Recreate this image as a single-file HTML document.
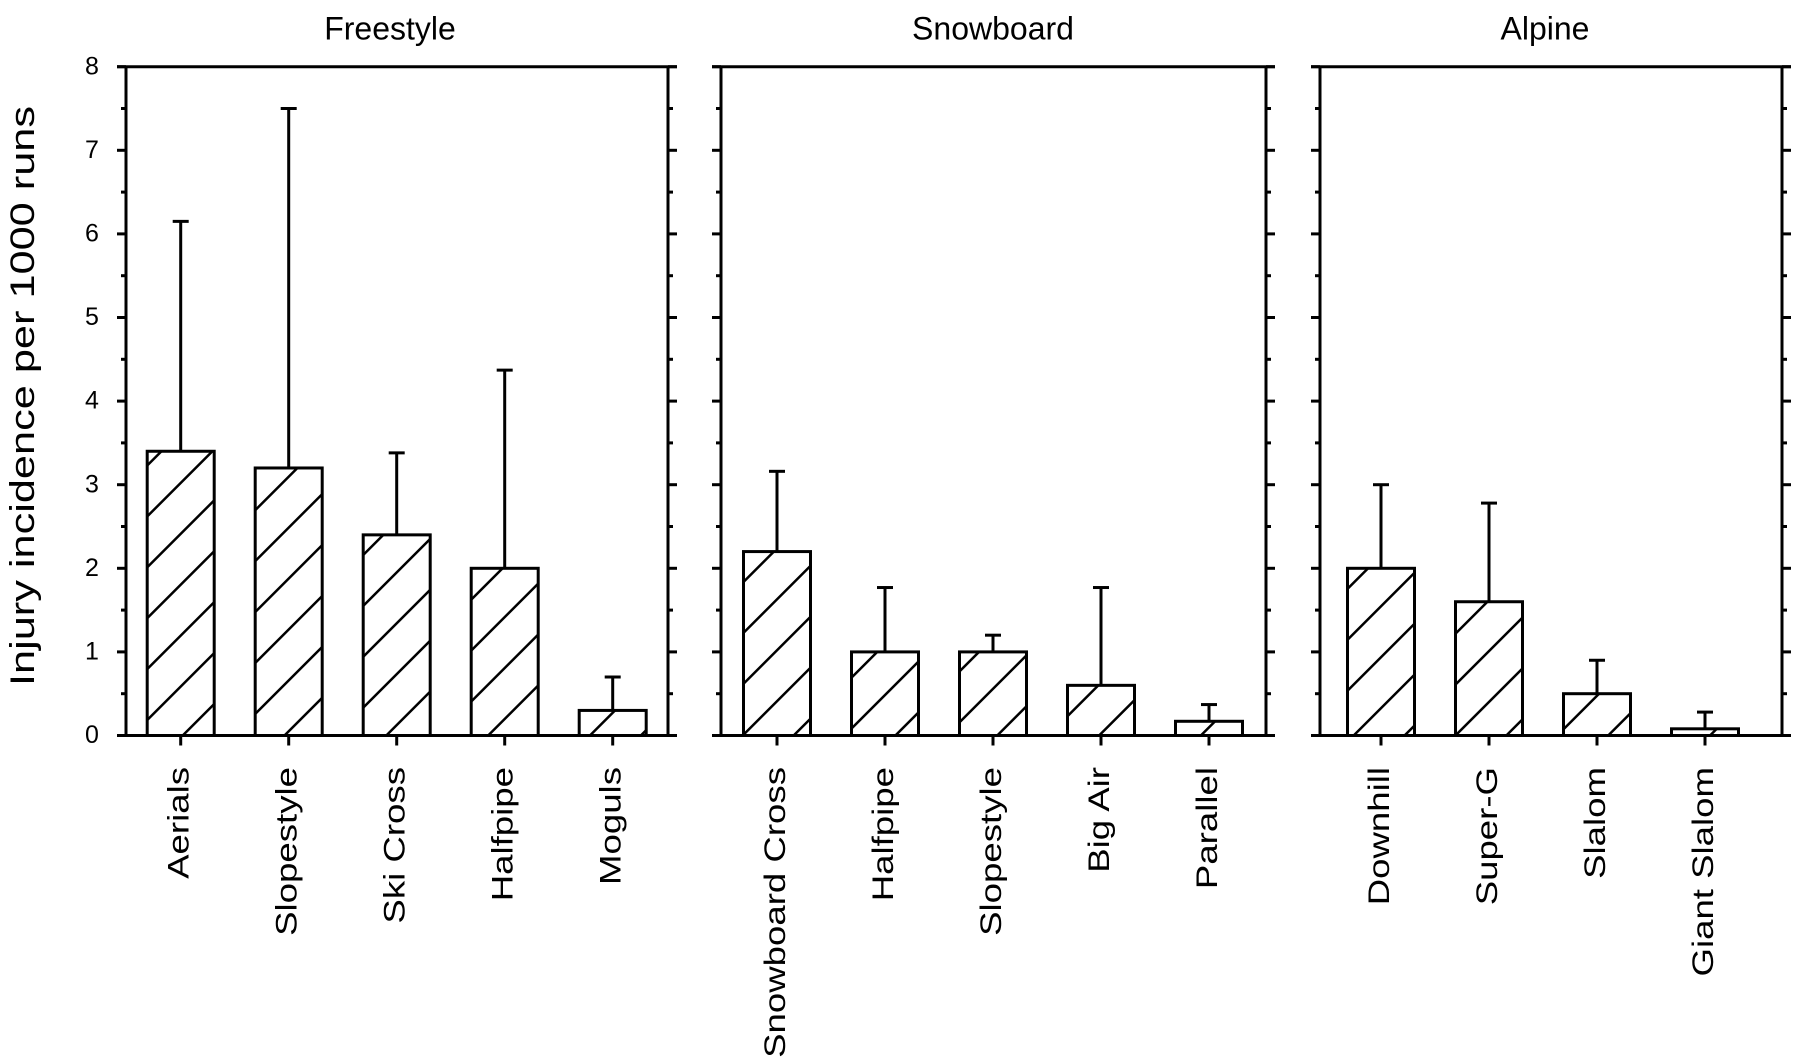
<!DOCTYPE html>
<html><head><meta charset="utf-8"><style>
html,body{margin:0;padding:0;background:#fff;}
svg{display:block;}
text{font-family:"Liberation Sans",sans-serif;fill:#000;}
</style></head><body>
<svg id="chart" width="1800" height="1060" viewBox="0 0 1800 1060">
<defs>
<pattern id="hatch" patternUnits="userSpaceOnUse" width="36" height="36" patternTransform="rotate(45)">
<rect width="36" height="36" fill="#fff"/>
<line x1="0" y1="0" x2="0" y2="36" stroke="#000" stroke-width="5"/>
</pattern>
</defs>
<text x="25" y="396" transform="rotate(-90 25 396)" text-anchor="middle" dominant-baseline="middle" font-size="34" textLength="580" lengthAdjust="spacingAndGlyphs">Injury incidence per 1000 runs</text>
</svg>
<script>
const panelNames = ["Freestyle", "Snowboard", "Alpine"];
const freestyleCats = ["Aerials", "Slopestyle", "Ski Cross", "Halfpipe", "Moguls"];
const freestyleVals = [3.4, 3.2, 2.4, 2.0, 0.3];
const freestyleErr = [6.15, 7.5, 3.38, 4.37, 0.7];
const snowboardCats = ["Snowboard Cross", "Halfpipe", "Slopestyle", "Big Air", "Parallel"];
const snowboardVals = [2.2, 1.0, 1.0, 0.6, 0.17];
const snowboardErr = [3.16, 1.77, 1.2, 1.77, 0.37];
const alpineCats = ["Downhill", "Super-G", "Slalom", "Giant Slalom"];
const alpineVals = [2.0, 1.6, 0.5, 0.08];
const alpineErr = [3.0, 2.78, 0.9, 0.28];
const yTicks = [0, 1, 2, 3, 4, 5, 6, 7, 8];

const NS = "http://www.w3.org/2000/svg";
const svg = document.getElementById("chart");
const y0 = 735.5, y8 = 66.7;
function yScale(v){ return y0 - (v / 8) * (y0 - y8); }
const panels = [
  {left:126, right:668, first:180.7, cats:freestyleCats, vals:freestyleVals, err:freestyleErr, titleX:390},
  {left:721, right:1266, first:777, cats:snowboardCats, vals:snowboardVals, err:snowboardErr, titleX:993},
  {left:1320, right:1782, first:1381, cats:alpineCats, vals:alpineVals, err:alpineErr, titleX:1545}
];
const step = 108, barW = 67;
function xScale(p, i){ return p.first + i * step; }
function mk(tag, attrs, parent){
  const e = document.createElementNS(NS, tag);
  for (const k in attrs) e.setAttribute(k, attrs[k]);
  (parent || svg).appendChild(e);
  return e;
}
panels.forEach((p, pi) => {
  const g = mk("g", {});
  
  
  const t = mk("text", {x:p.titleX, y:31, "text-anchor":"middle", "dominant-baseline":"middle", "font-size":32}, g);
  t.textContent = panelNames[pi];
  
  
  // bars
  p.vals.forEach((v, i) => {
    const cx = xScale(p, i);
    const er = mk("line", {x1:cx, x2:cx, y1:yScale(v), y2:yScale(p.err[i]), stroke:"#000", "stroke-width":3}, g);
    
    
    const cap = mk("line", {x1:cx-8, x2:cx+8, y1:yScale(p.err[i]), y2:yScale(p.err[i]), stroke:"#000", "stroke-width":3}, g);
    
    
    const r = mk("rect", {x:cx-barW/2, y:yScale(v), width:barW, height:y0-yScale(v), fill:"url(#hatch)", stroke:"#000", "stroke-width":3}, g);
    
    
    const tk = mk("line", {x1:cx, x2:cx, y1:y0, y2:y0+10, stroke:"#000", "stroke-width":3}, g);
    
    
    const lb = mk("text", {x:0, y:0, "text-anchor":"end", "dominant-baseline":"middle", "font-size":30, transform:"translate(" + cx + ",767) rotate(-90)"}, g);
    lb.textContent = p.cats[i];
    
    
    const w = lb.getComputedTextLength();
    if (w > 0) { lb.setAttribute("textLength", (w * 1.22).toFixed(1)); lb.setAttribute("lengthAdjust", "spacingAndGlyphs"); }
  });
  // frame
  const fr = mk("path", {d:"M" + (p.left-9) + "," + y8 + " H" + (p.right+9) + " M" + (p.left-9) + "," + y0 + " H" + (p.right+9) + " M" + p.left + "," + y8 + " V" + y0 + " M" + p.right + "," + y8 + " V" + y0, stroke:"#000", "stroke-width":3, fill:"none"}, g);
  
  
  // y ticks
  for (let k = 0; k <= 16; k++) {
    const v = k / 2, yy = yScale(v), len = (k % 2 === 0) ? 9 : 5;
    const a = mk("line", {x1:p.left-len, x2:p.left, y1:yy, y2:yy, stroke:"#000", "stroke-width":3}, g);
    
    
    const b = mk("line", {x1:p.right, x2:p.right+len, y1:yy, y2:yy, stroke:"#000", "stroke-width":3}, g);
    
    
  }
  if (pi === 0) {
    yTicks.forEach(v => {
      const tl = mk("text", {x:92, y:yScale(v)+1, "text-anchor":"middle", "dominant-baseline":"middle", "font-size":25}, g);
      tl.textContent = String(v);
      
      
    });
  }
});
</script>
</body></html>
